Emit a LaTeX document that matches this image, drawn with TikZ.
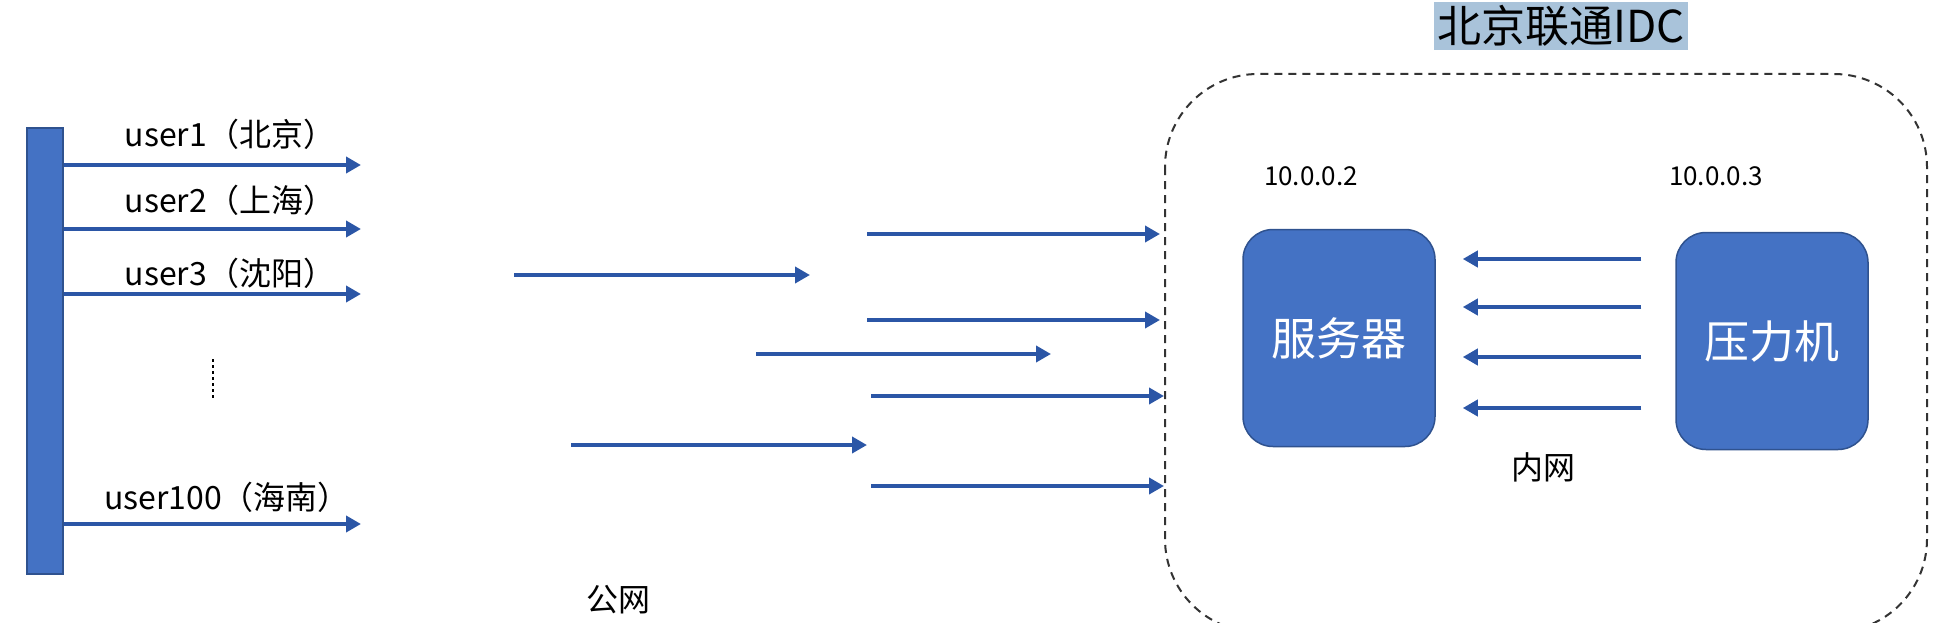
\documentclass[tikz,border=0pt]{standalone}
\usepackage{fontspec}
\setmainfont{Noto Sans CJK SC}
\usepackage{tikz}
\usetikzlibrary{arrows.meta,positioning}
\definecolor{boxblue}{HTML}{4472C4}
\definecolor{edgeblue}{HTML}{2F528F}
\definecolor{arrowblue}{HTML}{2B56A6}
\definecolor{selblue}{HTML}{A9C3DA}
\tikzset{
    flow/.style={draw=arrowblue, line width=3.8pt, -{Triangle[length=15pt,width=16pt]}},
    hostbox/.style={rectangle, rounded corners=30pt, fill=boxblue, draw=edgeblue, line width=1.5pt,
        minimum width=192pt, minimum height=217pt, text=white, font=\fontsize{45}{45}\selectfont},
    userlabel/.style={font=\fontsize{32}{32}\selectfont},
    netlabel/.style={font=\fontsize{32}{32}\selectfont},
    iplabel/.style={font=\fontsize{26}{26}\selectfont},
}

\begin{document}
\begin{tikzpicture}[x=1pt,y=-1pt]
    \useasboundingbox (0,0) rectangle (1943,623);
    \clip (0,0) rectangle (1943,623);
    % users
    \node[rectangle, fill=boxblue, draw=edgeblue, line width=1.5pt, inner sep=0pt,
        minimum width=36pt, minimum height=446pt] (bar) at (45,351) {};
    \coordinate (u1) at (361,165);
    \coordinate (u2) at (361,229);
    \coordinate (u3) at (361,294);
    \coordinate (u100) at (361,524);
    \draw[flow] (bar.east |- u1) -- (u1);
    \draw[flow] (bar.east |- u2) -- (u2);
    \draw[flow] (bar.east |- u3) -- (u3);
    \draw[flow] (bar.east |- u100) -- (u100);
    \node[userlabel] (name1) at (230,134) {user1（北京）};
    \node[userlabel] (name2) at (230,200) {user2（上海）};
    \node[userlabel] (name3) at (230,273) {user3（沈阳）};
    \node[userlabel] (name100) at (227,497) {user100（海南）};
    \draw[line width=2.5pt, dash pattern=on 2.5pt off 3.5pt] (213,359) -- (213,400);
    % public network
    \coordinate (a1) at (867,234);  \coordinate (b1) at (1160,234);
    \coordinate (a2) at (514,275);  \coordinate (b2) at (810,275);
    \coordinate (a3) at (867,320);  \coordinate (b3) at (1160,320);
    \coordinate (a4) at (756,354);  \coordinate (b4) at (1051,354);
    \coordinate (a5) at (871,396);  \coordinate (b5) at (1164,396);
    \coordinate (a6) at (571,445);  \coordinate (b6) at (867,445);
    \coordinate (a7) at (871,486);  \coordinate (b7) at (1164,486);
    \draw[flow] (a1) -- (b1);
    \draw[flow] (a2) -- (b2);
    \draw[flow] (a3) -- (b3);
    \draw[flow] (a4) -- (b4);
    \draw[flow] (a5) -- (b5);
    \draw[flow] (a6) -- (b6);
    \draw[flow] (a7) -- (b7);
    \node[netlabel] (public) at (618,600) {公网};
    % IDC
    \draw[line width=2pt, draw=black!80, dash pattern=on 8pt off 6pt, rounded corners=93pt]
        (1165,74) rectangle (1927,632);
    \node[fill=selblue, inner sep=3pt, font=\fontsize{44}{44}\selectfont] (idc) at (1561,26) {北京联通IDC};
    \node[hostbox] (server) at (1339,338) {服务器};
    \node[hostbox] (load) at (1772,341) {压力机};
    \node[iplabel] (ip2) at (1311,176) {10.0.0.2};
    \node[iplabel] (ip3) at (1716,176) {10.0.0.3};
    \coordinate (k1) at (1550,259);
    \coordinate (k2) at (1550,307);
    \coordinate (k3) at (1550,357);
    \coordinate (k4) at (1550,408);
    \draw[flow, shorten <=34pt, shorten >=27pt] (load.west |- k1) -- (server.east |- k1);
    \draw[flow, shorten <=34pt, shorten >=27pt] (load.west |- k2) -- (server.east |- k2);
    \draw[flow, shorten <=34pt, shorten >=27pt] (load.west |- k3) -- (server.east |- k3);
    \draw[flow, shorten <=34pt, shorten >=27pt] (load.west |- k4) -- (server.east |- k4);
    \node[netlabel] (private) at (1543,467) {内网};
\end{tikzpicture}
\end{document}
